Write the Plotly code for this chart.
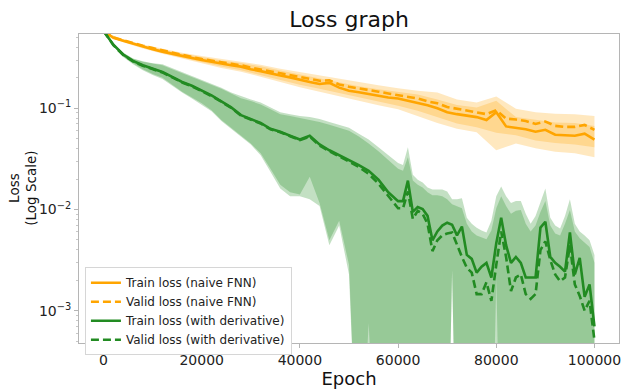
import plotly.graph_objects as go

OFF = 1e-5  # band edge below the visible range

# ---------------- x positions (epochs) ----------------
epochs_orange = list(range(0, 100001, 2000))
epochs_orange_band = list(range(0, 100001, 4000))
epochs_green = list(range(0, 60000, 2000)) + list(range(60000, 100001, 1000))

# ---------------- naive FNN (orange) ----------------
orange_train = [0.58, 0.496, 0.464, 0.434, 0.406, 0.384, 0.363, 0.344, 0.328, 0.314, 0.300, 0.288, 0.275,
                0.266, 0.258, 0.243, 0.233, 0.220, 0.211, 0.202, 0.191, 0.182, 0.174, 0.178, 0.160, 0.149,
                0.144, 0.138, 0.134, 0.128, 0.125, 0.119, 0.114, 0.107, 0.100, 0.0915, 0.0875, 0.0846,
                0.0818, 0.0766, 0.0915, 0.0662, 0.0641, 0.062, 0.0586, 0.0613, 0.0548, 0.0542, 0.0536,
                0.0561, 0.0491]
orange_valid = [0.58, 0.50, 0.47, 0.439, 0.415, 0.393, 0.372, 0.352, 0.336, 0.321, 0.307, 0.294, 0.285,
                0.275, 0.266, 0.252, 0.241, 0.231, 0.220, 0.213, 0.202, 0.195, 0.187, 0.189, 0.172, 0.163,
                0.158, 0.151, 0.146, 0.140, 0.135, 0.131, 0.125, 0.117, 0.112, 0.103, 0.0989, 0.0957,
                0.0915, 0.0875, 0.0957, 0.0791, 0.0774, 0.0749, 0.070, 0.074, 0.067, 0.0655, 0.0655,
                0.0685, 0.0613]
orange_valid_hi = [0.568, 0.482, 0.428, 0.386, 0.353, 0.329, 0.308, 0.291, 0.269, 0.246, 0.228, 0.211, 0.197,
                   0.180, 0.169, 0.158, 0.149, 0.143, 0.122, 0.114, 0.131, 0.0989, 0.0915, 0.0885, 0.0875,
                   0.0837]
orange_valid_lo = [0.542, 0.454, 0.399, 0.353, 0.316, 0.285, 0.259, 0.238, 0.211, 0.191, 0.171, 0.156, 0.143,
                   0.129, 0.117, 0.106, 0.0946, 0.0818, 0.0708, 0.0649, 0.0573, 0.0542, 0.0480, 0.0454,
                   0.0439, 0.0411]
orange_train_hi = [0.568, 0.477, 0.418, 0.377, 0.345, 0.322, 0.297, 0.281, 0.260, 0.236, 0.216, 0.197, 0.182,
                   0.165, 0.154, 0.146, 0.137, 0.122, 0.108, 0.102, 0.119, 0.0818, 0.0766, 0.0724, 0.0716,
                   0.067]
orange_train_lo = [0.542, 0.449, 0.390, 0.345, 0.309, 0.278, 0.250, 0.230, 0.204, 0.182, 0.161, 0.146, 0.132,
                   0.118, 0.107, 0.0978, 0.0837, 0.0716, 0.0627, 0.058, 0.0385, 0.0449, 0.0402, 0.0372,
                   0.0359, 0.0329]

# ---------------- with derivative (green) ----------------
green_train = [0.58, 0.425, 0.340, 0.294, 0.266, 0.246, 0.228, 0.204, 0.182, 0.167, 0.149, 0.134, 0.117,
               0.102, 0.0856, 0.0783, 0.0716, 0.0627, 0.0586, 0.0536, 0.0491, 0.0536, 0.0439, 0.0385,
               0.0344, 0.0308, 0.0275, 0.0241, 0.0197, 0.0148,
               0.0121, 0.0121, 0.0193, 0.00946, 0.0106, 0.0101, 0.00865, 0.00496, 0.00607, 0.00693,
               0.00741, 0.00708, 0.00555, 0.00678, 0.00356, 0.00325, 0.00238, 0.00272, 0.00297, 0.00213,
               0.00465, 0.00828, 0.00444, 0.00297, 0.0034, 0.00297, 0.00213, 0.00213, 0.00213, 0.00662,
               0.00757, 0.0034, 0.00297, 0.00272, 0.00243, 0.00593, 0.00228, 0.00333, 0.00137, 0.00182,
               0.0007]
green_valid = [0.58, 0.421, 0.336, 0.291, 0.263, 0.243, 0.226, 0.202, 0.180, 0.165, 0.148, 0.132, 0.116,
               0.101, 0.0846, 0.0774, 0.0708, 0.062, 0.058, 0.053, 0.0486, 0.0525, 0.0429, 0.0376, 0.0337,
               0.0298, 0.0263, 0.0225, 0.0180, 0.0135,
               0.0103, 0.0103, 0.0151, 0.0081, 0.0097, 0.00906, 0.00724, 0.00388, 0.00496, 0.00555,
               0.0058, 0.00593, 0.00444, 0.0034, 0.00266, 0.00238, 0.00146, 0.00146, 0.00191, 0.00125,
               0.00284, 0.00607, 0.0034, 0.00156, 0.00213, 0.00228, 0.00146, 0.00131, 0.00146, 0.00397,
               0.00485, 0.00318, 0.00228, 0.00195, 0.00213, 0.00444, 0.00182, 0.0014, 0.001, 0.00125,
               0.00051]
green_train_hi = [0.60, 0.434, 0.356, 0.311, 0.291, 0.278, 0.272, 0.249, 0.228, 0.208, 0.191, 0.174, 0.160,
                  0.143, 0.131, 0.122, 0.114, 0.102, 0.0915, 0.0875, 0.0837, 0.0818, 0.0783, 0.0732, 0.0686,
                  0.0641, 0.0561, 0.0491, 0.0411, 0.0344,
                  0.0288, 0.0275, 0.0411, 0.022, 0.0197, 0.0185, 0.0165, 0.0158, 0.0158, 0.0158, 0.0151,
                  0.0126, 0.0126, 0.0129, 0.00828, 0.00724, 0.00662, 0.0062, 0.00593, 0.00774, 0.0135,
                  0.0169, 0.0135, 0.0116, 0.0121, 0.0121, 0.00906, 0.00724, 0.00865, 0.0121, 0.0161,
                  0.00828, 0.00693, 0.00648, 0.00865, 0.0126, 0.00724, 0.00607, 0.00555, 0.00496, 0.00356]
green_valid_hi = [0.60, 0.43, 0.352, 0.308, 0.288, 0.275, 0.266, 0.243, 0.223, 0.204, 0.187, 0.171, 0.156,
                  0.140, 0.126, 0.118, 0.109, 0.0978, 0.0875, 0.0837, 0.080, 0.0766, 0.0732, 0.0686, 0.0641,
                  0.060, 0.0525, 0.0449, 0.0376, 0.0308,
                  0.0252, 0.0241, 0.0329, 0.0193, 0.0176, 0.0165, 0.0148, 0.0138, 0.0138, 0.0135, 0.0126,
                  0.0113, 0.0108, 0.0103, 0.00724, 0.00607, 0.00555, 0.00531, 0.00507, 0.0062, 0.0103,
                  0.0135, 0.0108, 0.00906, 0.0097, 0.00989, 0.00724, 0.00607, 0.00693, 0.00946, 0.0121,
                  0.00693, 0.0058, 0.00555, 0.00724, 0.00989, 0.00607, 0.00519, 0.00474, 0.00425, 0.00297]
green_train_lo = [0.56, 0.415, 0.325, 0.278, 0.243, 0.218, 0.200, 0.171, 0.146, 0.128, 0.112, 0.0957, 0.0766,
                  0.0641, 0.0536, 0.0449, 0.0359, 0.0252, 0.0176, 0.0148, 0.0141, 0.0211, 0.0116, 0.00496,
                  0.00774, 0.00284, OFF, OFF, OFF, OFF,
                  OFF, OFF, OFF, OFF, OFF, OFF, OFF, OFF, OFF, OFF, OFF, 0.0025, OFF, OFF, OFF, OFF, OFF,
                  OFF, OFF, OFF, OFF, OFF, OFF, OFF, OFF, OFF, OFF, OFF, OFF, OFF, OFF, OFF, OFF, OFF, OFF,
                  OFF, OFF, OFF, OFF, OFF, OFF]
green_valid_lo = [0.56, 0.411, 0.321, 0.272, 0.238, 0.213, 0.195, 0.167, 0.143, 0.125, 0.109, 0.0935, 0.0749,
                  0.0627, 0.0525, 0.0439, 0.0344, 0.0236, 0.0161, 0.0135, 0.0135, 0.0126, 0.0108, 0.00444,
                  0.00693, 0.00228, OFF, 0.00075, OFF, OFF,
                  OFF, OFF, OFF, OFF, OFF, OFF, OFF, OFF, OFF, OFF, OFF, 0.0025, OFF, OFF, OFF, OFF, OFF,
                  OFF, OFF, OFF, 0.0021, OFF, OFF, OFF, OFF, OFF, OFF, OFF, OFF, OFF, OFF, OFF, OFF, OFF, OFF,
                  OFF, OFF, OFF, OFF, OFF, OFF]

x_ticks = [0, 20000, 40000, 60000, 80000, 100000]
y_ticks = [1e-3, 1e-2, 1e-1]
y_ticktext = ["10<sup>\u22123</sup>", "10<sup>\u22122</sup>", "10<sup>\u22121</sup>"]

ORANGE = "#FFA500"
GREEN = "#228B22"
ORANGE_FILL = "rgba(255,165,0,0.25)"
GREEN_FILL = "rgba(34,139,34,0.27)"


def band(x, lo, hi, fill):
    return go.Scatter(x=list(x) + list(x)[::-1], y=list(hi) + list(lo)[::-1], fill="toself",
                      fillcolor=fill, line=dict(width=0), mode="lines", hoverinfo="skip",
                      showlegend=False)


fig = go.Figure()
fig.add_trace(band(epochs_orange_band, orange_train_lo, orange_train_hi, ORANGE_FILL))
fig.add_trace(band(epochs_orange_band, orange_valid_lo, orange_valid_hi, ORANGE_FILL))
fig.add_trace(band(epochs_green, green_train_lo, green_train_hi, GREEN_FILL))
fig.add_trace(band(epochs_green, green_valid_lo, green_valid_hi, GREEN_FILL))

fig.add_trace(go.Scatter(x=epochs_orange, y=orange_train, mode="lines", name="Train loss (naive FNN)",
                         line=dict(color=ORANGE, width=2.6)))
fig.add_trace(go.Scatter(x=epochs_orange, y=orange_valid, mode="lines", name="Valid loss (naive FNN)",
                         line=dict(color=ORANGE, width=2.6, dash="8px,4px")))
fig.add_trace(go.Scatter(x=epochs_green, y=green_train, mode="lines", name="Train loss (with derivative)",
                         line=dict(color=GREEN, width=2.6)))
fig.add_trace(go.Scatter(x=epochs_green, y=green_valid, mode="lines", name="Valid loss (with derivative)",
                         line=dict(color=GREEN, width=2.6, dash="8px,4px")))

minor_vals = [m * 10.0 ** p for p in (-4, -3, -2, -1) for m in range(2, 10)]

axis_common = dict(showline=True, linecolor="#b5b5b5", linewidth=1, mirror=True, showgrid=False,
                   zeroline=False, ticks="outside", ticklen=4, tickcolor="#b5b5b5",
                   tickfont=dict(size=14, color="#222222"))

fig.update_layout(
    width=628, height=389,
    margin=dict(l=79, r=7, t=34, b=39),
    paper_bgcolor="white", plot_bgcolor="white",
    font=dict(family="DejaVu Sans", color="#111111"),
    title=dict(text="Loss graph", x=0.5, xref="paper", xanchor="center", y=1 - 19 / 389,
               yref="container", yanchor="middle", font=dict(size=22, color="#111111")),
    xaxis=dict(range=[-5000, 105000], tickvals=x_ticks, tickformat="d",
               title=dict(text="Epoch", font=dict(size=18, color="#111111"), standoff=2), **axis_common),
    yaxis=dict(type="log", range=[-3.319, -0.266], tickvals=y_ticks, ticktext=y_ticktext,
               minor=dict(tickmode="array", tickvals=minor_vals, ticks="outside", ticklen=2,
                          tickcolor="#c8c8c8"),
               **axis_common),
    legend=dict(x=0.011, y=0.245, xanchor="left", yanchor="top", bgcolor="white",
                bordercolor="#d6d6d6", borderwidth=1, font=dict(size=12, color="#222222"),
                itemwidth=30),
    annotations=[dict(text="Loss<br>(Log Scale)", textangle=-90, xref="paper", yref="paper",
                      x=(22 - 79) / 542, y=0.5, xanchor="center", yanchor="middle", showarrow=False,
                      font=dict(size=13.5, color="#111111"))],
)

fig.write_html("out.html")
